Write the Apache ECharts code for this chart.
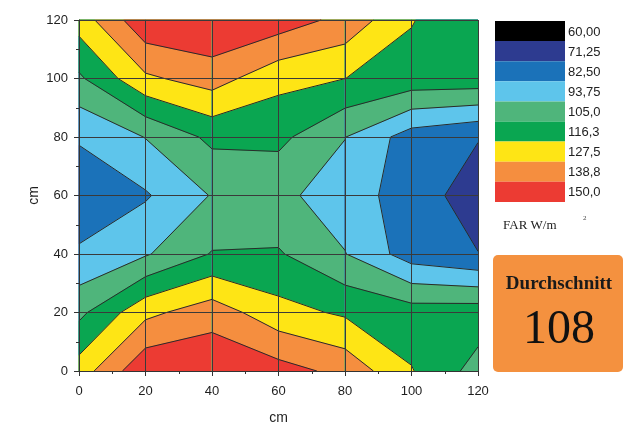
<!DOCTYPE html>
<html>
<head>
<meta charset="utf-8">
<script src="https://cdn.jsdelivr.net/npm/echarts@6/dist/echarts.min.js"></script>
<style>
  html, body { margin: 0; padding: 0; background: #fff; }
  #chart { width: 642px; height: 425px; }
</style>
</head>
<body>
<div id="chart"></div>
<script>
// Measuring grid positions (cm)
const xCm = [0, 20, 40, 60, 80, 100, 120];
const yCm = [0, 20, 40, 60, 80, 100, 120];

// FAR readings in W/m², one row per height, left to right along x
const farY0   = [121.5, 147.9, 148.3, 143.3, 135.4, 116.9, 100.7];
const farY20  = [102.2, 124.6, 133.8, 120.2, 114.6, 110.3, 111.1];
const farY40  = [ 83.9,  92.6, 105.7, 106.1,  94.1,  76.9,  71.5];
const farY60  = [ 75.8,  81.3,  94.4,  96.2,  88.6,  76.5,  66.0];
const farY80  = [ 83.6,  94.1, 107.7, 107.9,  94.0,  77.2,  71.8];
const farY100 = [103.1, 125.5, 132.5, 119.6, 116.3, 112.0, 111.9];
const farY120 = [121.3, 147.3, 149.5, 144.9, 135.3, 116.9, 106.5];

// Colour bands: each band starts at its floor value
const bandFloors = [-Infinity, 60, 71.25, 82.5, 93.75, 105, 116.25, 127.5, 138.75];
const bandColors = ['#000000', '#2d3b90', '#1b72b9', '#5ec5eb', '#4fb57b', '#0aa651', '#fee515', '#f58e3f', '#ec3b33'];
const legendLabels = ['60,00', '71,25', '82,50', '93,75', '105,0', '116,3', '127,5', '138,8', '150,0'];

const farRows = [farY0, farY20, farY40, farY60, farY80, farY100, farY120];

// Keep the part of a cell polygon where the reading is >= t (linear along edges)
function clipAbove(poly, t) {
  const out = [];
  for (let i = 0; i < poly.length; i++) {
    const a = poly[i], b = poly[(i + 1) % poly.length];
    const ain = a.v >= t, bin = b.v >= t;
    if (ain) out.push(a);
    if (ain !== bin) {
      const f = (t - a.v) / (b.v - a.v);
      out.push({ x: a.x + f * (b.x - a.x), y: a.y + f * (b.y - a.y), v: t, iso: true });
    }
  }
  return out;
}

const fills = [];     // {pts, color}
const isoLines = [];  // [[x1,y1],[x2,y2]]
for (let j = 0; j < yCm.length - 1; j++) {
  for (let i = 0; i < xCm.length - 1; i++) {
    const cell = [
      { x: xCm[i],     y: yCm[j],     v: farRows[j][i] },
      { x: xCm[i + 1], y: yCm[j],     v: farRows[j][i + 1] },
      { x: xCm[i + 1], y: yCm[j + 1], v: farRows[j + 1][i + 1] },
      { x: xCm[i],     y: yCm[j + 1], v: farRows[j + 1][i] }
    ];
    bandFloors.forEach((t, k) => {
      const poly = k === 0 ? cell : clipAbove(cell, t);
      if (poly.length < 3) return;
      fills.push({ pts: poly.map(p => [p.x, p.y]), color: bandColors[k] });
      if (k === 0) return;
      for (let m = 0; m < poly.length; m++) {
        const a = poly[m], b = poly[(m + 1) % poly.length];
        if (a.iso && b.iso) isoLines.push([[a.x, a.y], [b.x, b.y]]);
      }
    });
  }
}

const axisColor = '#333';
const gridColor = '#3a3a3a';
const labelFont = { color: '#1e1e1e', fontSize: 13, fontFamily: '"Liberation Sans", Arial, sans-serif' };

function axisCommon(nameGap, labelMargin) {
  return {
    type: 'value', min: 0, max: 120, interval: 20, z: 10,
    axisLine: { show: true, onZero: false, lineStyle: { color: axisColor, width: 1 } },
    axisTick: { show: true, inside: false, length: 5, lineStyle: { color: axisColor } },
    minorTick: { show: true, splitNumber: 2, length: 3, lineStyle: { color: axisColor } },
    splitLine: { show: true, lineStyle: { color: gridColor, width: 1 } },
    axisLabel: Object.assign({ margin: labelMargin }, labelFont),
    name: 'cm', nameLocation: 'middle', nameGap: nameGap, nameMoveOverlap: false,
    nameTextStyle: { color: '#1e1e1e', fontSize: 14, fontFamily: '"Liberation Sans", Arial, sans-serif' }
  };
}

const legendX = 495, legendY = 21, boxW = 70, boxH = 20.1;
const graphics = [];
bandColors.forEach((c, i) => {
  graphics.push({ type: 'rect', shape: { x: legendX, y: legendY + i * boxH, width: boxW, height: boxH }, style: { fill: c } });
});
legendLabels.forEach((t, i) => {
  graphics.push({ type: 'text', x: legendX + boxW + 3, y: legendY + i * boxH + boxH / 2 + 1,
    style: { text: t, fill: '#222', fontSize: 13, fontFamily: '"Liberation Sans", Arial, sans-serif', verticalAlign: 'middle', align: 'left' } });
});
graphics.push(
  { type: 'text', x: 503, y: 226, style: { text: 'FAR W/m', fill: '#222', fontSize: 13, fontFamily: '"Liberation Serif", serif', verticalAlign: 'middle' } },
  { type: 'text', x: 583, y: 218, style: { text: '2', fill: '#444', fontSize: 7, fontFamily: '"Liberation Serif", serif', verticalAlign: 'middle' } },
  { type: 'rect', shape: { x: 493, y: 255, width: 130, height: 117, r: 5 }, style: { fill: '#f4913f' } },
  { type: 'text', x: 559, y: 284, style: { text: 'Durchschnitt', fill: '#1a1a1a', fontSize: 19, fontWeight: 'bold', fontFamily: '"Liberation Serif", serif', align: 'center', verticalAlign: 'middle' } },
  { type: 'text', x: 559, y: 330, style: { text: '108', fill: '#111', fontSize: 48, fontFamily: '"Liberation Serif", serif', align: 'center', verticalAlign: 'middle' } }
);

const chart = echarts.init(document.getElementById('chart'), null, { renderer: 'canvas' });
chart.setOption({
  animation: false,
  backgroundColor: '#fff',
  grid: { left: 79, top: 20, width: 399, height: 351, show: false, containLabel: false, outerBoundsMode: 'none' },
  xAxis: axisCommon(40, 14),
  yAxis: axisCommon(38, 11),
  graphic: graphics,
  series: [
    {
      type: 'custom', coordinateSystem: 'cartesian2d', silent: true, z: 2,
      data: fills.map((f, i) => [f.pts[0][0], f.pts[0][1], i]),
      renderItem: function (params, api) {
        const f = fills[api.value(2)];
        return {
          type: 'polygon',
          shape: { points: f.pts.map(p => api.coord(p)) },
          style: { fill: f.color, stroke: f.color, lineWidth: 0.6 }
        };
      }
    },
    {
      type: 'custom', coordinateSystem: 'cartesian2d', silent: true, z: 3,
      data: isoLines.map((s, i) => [s[0][0], s[0][1], i]),
      renderItem: function (params, api) {
        const s = isoLines[api.value(2)];
        const a = api.coord(s[0]), b = api.coord(s[1]);
        return {
          type: 'line',
          shape: { x1: a[0], y1: a[1], x2: b[0], y2: b[1] },
          style: { stroke: '#2a2a2a', lineWidth: 1 }
        };
      }
    }
  ]
});
</script>
</body>
</html>
